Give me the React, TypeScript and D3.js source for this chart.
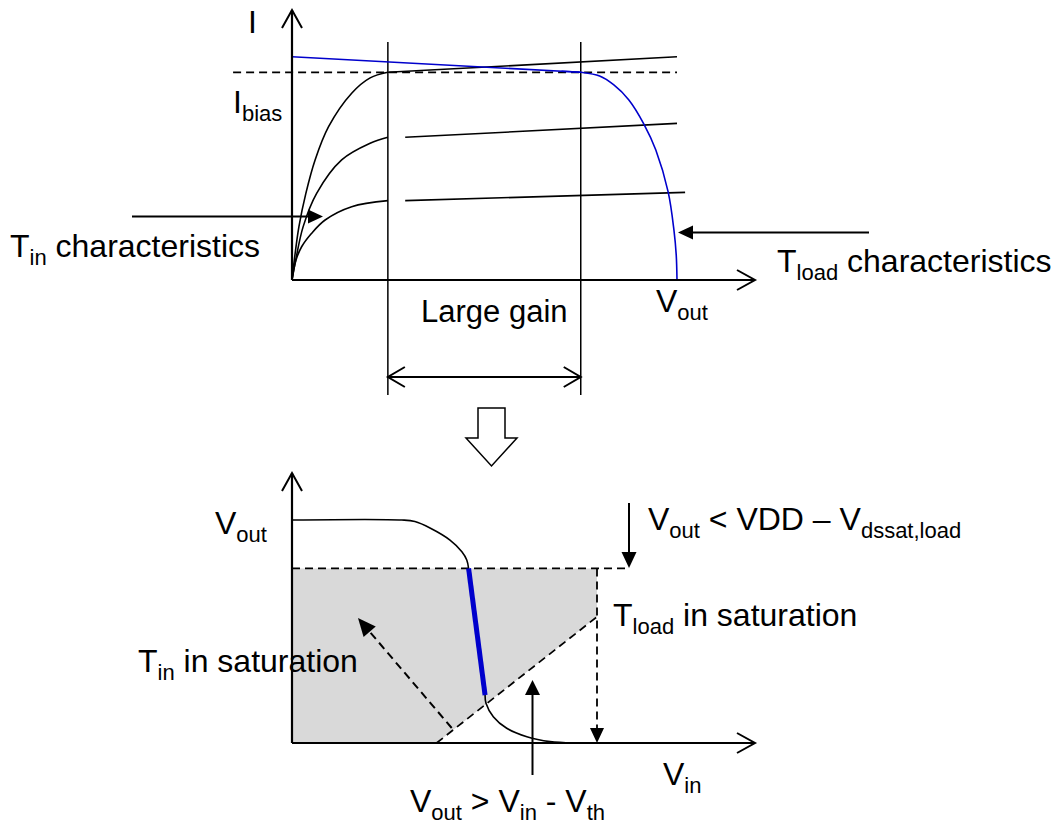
import React from 'react';
import * as d3 from 'd3';

// ---------- Top plot data (I vs Vout, normalized: Vout=1 -> VDD, I=1 -> Ibias) ----------
const tinCurveTop: [number, number][] = [[0, 0], [0.006, 0.096], [0.018, 0.257], [0.036, 0.417], [0.06, 0.578], [0.095, 0.738], [0.155, 0.899], [0.203, 0.973], [0.249, 1.0]];
const tinCurveMid: [number, number][] = [[0, 0], [0.0096, 0.096], [0.029, 0.257], [0.064, 0.417], [0.129, 0.578], [0.203, 0.658], [0.249, 0.687]];
const tinCurveLow: [number, number][] = [[0, 0], [0.0104, 0.096], [0.025, 0.16], [0.051, 0.225], [0.086, 0.289], [0.155, 0.353], [0.249, 0.382]];
const tinSatTop: [number, number][] = [[0.249, 1.0], [1.0, 1.075]];
const tinSatMid: [number, number][] = [[0.294, 0.687], [1.0, 0.754]];
const tinSatLow: [number, number][] = [[0.294, 0.382], [1.021, 0.422]];
const loadLine: [number, number][] = [[0, 1.075], [0.75, 1.0]];
const loadCurve: [number, number][] = [[0.7, 1.005], [0.75, 1.0], [0.799, 0.982], [0.836, 0.939], [0.875, 0.867], [0.914, 0.751], [0.945, 0.626], [0.977, 0.424], [0.992, 0.241], [0.998, 0.12], [1.0, 0]];
const gainBounds = [0.249, 0.75];
const iBias = 1.0;

// ---------- Bottom plot data (Vout vs Vin, normalized) ----------
const vtcHigh: [number, number][] = [[0, 1], [0.36, 1], [0.403, 0.993], [0.454, 0.963], [0.518, 0.91], [0.557, 0.858], [0.573, 0.821], [0.579, 0.783]];
const vtcGain: [number, number][] = [[0.579, 0.783], [0.633, 0.215]];
const vtcLow: [number, number][] = [[0.633, 0.215], [0.636, 0.178], [0.66, 0.118], [0.704, 0.066], [0.77, 0.028], [0.846, 0.006], [0.922, 0]];
const satRegion: [number, number][] = [[0, 0.783], [1, 0.783], [1, 0.566], [0.474, 0], [0, 0]];
const vinMinusVth: [number, number][] = [[0.474, 0], [1, 0.566]];
const loadSatLevel = 0.783;
const loadSatVin = 1;

const FONT = '"Liberation Sans", Arial, Helvetica, sans-serif';
const BLUE = '#0000cc';
const MAIN = 32;
const SUB = 22;
const SUBDY = 8;

const topX = d3.scaleLinear().domain([0, 1]).range([292, 677]);
const topY = d3.scaleLinear().domain([0, 1]).range([280, 72.3]);
const botX = d3.scaleLinear().domain([0, 1]).range([292, 597]);
const botY = d3.scaleLinear().domain([0, 1]).range([743, 520]);

const smooth = d3.curveCatmullRom.alpha(0.5);
const topLine = d3.line<[number, number]>().x(d => topX(d[0])).y(d => topY(d[1]));
const topCurve = d3.line<[number, number]>().x(d => topX(d[0])).y(d => topY(d[1])).curve(smooth);
const botLine = d3.line<[number, number]>().x(d => botX(d[0])).y(d => botY(d[1]));
const botCurve = d3.line<[number, number]>().x(d => botX(d[0])).y(d => botY(d[1])).curve(smooth);

function headPts(x1: number, y1: number, x2: number, y2: number, len: number, hw: number) {
  const dx = x2 - x1, dy = y2 - y1;
  const L = Math.hypot(dx, dy);
  const ux = dx / L, uy = dy / L;
  const bx = x2 - ux * len, by = y2 - uy * len;
  const px = -uy, py = ux;
  return { bx, by, a: [bx + px * hw, by + py * hw], b: [bx - px * hw, by - py * hw] };
}

function FilledArrow({ x1, y1, x2, y2, len = 15, hw = 7, dash, sw = 2 }: any) {
  const h = headPts(x1, y1, x2, y2, len, hw);
  return (
    <g>
      <line x1={x1} y1={y1} x2={h.bx} y2={h.by} stroke="#000" strokeWidth={sw} strokeDasharray={dash} />
      <polygon points={`${x2},${y2} ${h.a[0]},${h.a[1]} ${h.b[0]},${h.b[1]}`} fill="#000" />
    </g>
  );
}

function OpenHead({ x1, y1, x2, y2, len = 18, hw = 10, sw = 2 }: any) {
  const h = headPts(x1, y1, x2, y2, len, hw);
  return <polyline points={`${h.a[0]},${h.a[1]} ${x2},${y2} ${h.b[0]},${h.b[1]}`} fill="none" stroke="#000" strokeWidth={sw} />;
}

function Label({ x, y, parts, size = MAIN }: { x: number; y: number; parts: [string, boolean][]; size?: number }) {
  let sub = false;
  return (
    <text x={x} y={y} fontFamily={FONT} fontSize={size} fill="#000" style={{ whiteSpace: 'pre' }}>
      {parts.map(([t, s], i) => {
        const dy = s === sub ? 0 : s ? SUBDY : -SUBDY;
        sub = s;
        return (
          <tspan key={i} dy={dy} fontSize={s ? SUB : size}>{t}</tspan>
        );
      })}
    </text>
  );
}

export default function App() {
  const dash = '8,5';
  const x0 = topX(0), y0 = topY(0);
  const bx0 = botX(0), by0 = botY(0);
  return (
    <svg width={1056} height={825} style={{ position: 'absolute', left: 0, top: 0, background: '#fff' }}>
      <rect width={1056} height={825} fill="#fff" />
      {/* ===== Top plot ===== */}
      {gainBounds.map((g, i) => (
        <line key={i} x1={topX(g)} x2={topX(g)} y1={42} y2={395} stroke="#000" strokeWidth={1.5} />
      ))}
      <line x1={topX(-0.153)} x2={topX(1.0)} y1={topY(iBias)} y2={topY(iBias)} stroke="#000" strokeWidth={1.7} strokeDasharray={dash} />
      {[tinCurveTop, tinCurveMid, tinCurveLow].map((c, i) => (
        <path key={i} d={topCurve(c) || ''} fill="none" stroke="#000" strokeWidth={1.6} />
      ))}
      {[tinSatTop, tinSatMid, tinSatLow].map((c, i) => (
        <path key={i} d={topLine(c) || ''} fill="none" stroke="#000" strokeWidth={1.6} />
      ))}
      <path d={topLine(loadLine) || ''} fill="none" stroke={BLUE} strokeWidth={1.6} />
      <path d={topCurve(loadCurve) || ''} fill="none" stroke={BLUE} strokeWidth={1.6} />
      <line x1={x0} y1={y0} x2={x0} y2={10} stroke="#000" strokeWidth={2.2} />
      <OpenHead x1={x0} y1={y0} x2={x0} y2={10} />
      <line x1={x0} y1={y0} x2={755} y2={y0} stroke="#000" strokeWidth={2.2} />
      <OpenHead x1={x0} y1={y0} x2={755} y2={y0} />
      <line x1={topX(gainBounds[0])} x2={topX(gainBounds[1])} y1={377} y2={377} stroke="#000" strokeWidth={2} />
      <OpenHead x1={topX(gainBounds[1])} y1={377} x2={topX(gainBounds[0])} y2={377} len={17} hw={10} />
      <OpenHead x1={topX(gainBounds[0])} y1={377} x2={topX(gainBounds[1])} y2={377} len={17} hw={10} />
      <FilledArrow x1={132} y1={216.5} x2={323} y2={216.5} len={15} hw={7} />
      <FilledArrow x1={869} y1={232.5} x2={678} y2={232.5} len={15} hw={7} />
      <Label x={248} y={33} parts={[['I', false]]} />
      <Label x={233} y={113} parts={[['I', false], ['bias', true]]} />
      <Label x={10} y={257} parts={[['T', false], ['in', true], [' characteristics', false]]} />
      <Label x={777} y={272} parts={[['T', false], ['load', true], [' characteristics', false]]} />
      <Label x={656} y={312} parts={[['V', false], ['out', true]]} />
      <Label x={421} y={322} parts={[['Large gain', false]]} size={31} />

      <path d="M478,408 L505,408 L505,438 L517,438 L491.5,466 L466,438 L478,438 Z" fill="#fff" stroke="#000" strokeWidth={1.5} />

      {/* ===== Bottom plot ===== */}
      <path d={botLine(satRegion) + 'Z'} fill="#d9d9d9" stroke="none" />
      <line x1={bx0} x2={627} y1={botY(loadSatLevel)} y2={botY(loadSatLevel)} stroke="#000" strokeWidth={1.7} strokeDasharray={dash} />
      <path d={botLine(vinMinusVth) || ''} fill="none" stroke="#000" strokeWidth={1.7} strokeDasharray={dash} />
      <FilledArrow x1={botX(loadSatVin)} y1={botY(loadSatLevel)} x2={botX(loadSatVin)} y2={by0} len={15} hw={7} dash={dash} sw={1.8} />
      <path d={botCurve(vtcHigh) || ''} fill="none" stroke="#000" strokeWidth={1.6} />
      <path d={botCurve(vtcLow) || ''} fill="none" stroke="#000" strokeWidth={1.6} />
      <path d={botLine(vtcGain) || ''} fill="none" stroke={BLUE} strokeWidth={5} />
      <line x1={bx0} y1={by0} x2={bx0} y2={473} stroke="#000" strokeWidth={2.2} />
      <OpenHead x1={bx0} y1={by0} x2={bx0} y2={473} />
      <line x1={bx0} y1={by0} x2={755} y2={by0} stroke="#000" strokeWidth={2.2} />
      <OpenHead x1={bx0} y1={by0} x2={755} y2={by0} />
      <FilledArrow x1={451.7} y1={728} x2={358} y2={618} len={18} hw={8} dash={dash} sw={2} />
      <FilledArrow x1={532.5} y1={775} x2={532.5} y2={680} len={15} hw={7.5} />
      <FilledArrow x1={629} y1={503} x2={629} y2={568} len={16} hw={7.5} />
      <Label x={215} y={534} parts={[['V', false], ['out', true]]} />
      <Label x={648} y={530} parts={[['V', false], ['out', true], [' < VDD – V', false], ['dssat,load', true]]} />
      <Label x={613} y={626} parts={[['T', false], ['load', true], [' in saturation', false]]} />
      <Label x={138} y={672} parts={[['T', false], ['in', true], [' in saturation', false]]} />
      <Label x={663} y={785} parts={[['V', false], ['in', true]]} />
      <Label x={410} y={812} parts={[['V', false], ['out', true], [' > V', false], ['in', true], [' - V', false], ['th', true]]} />
    </svg>
  );
}
